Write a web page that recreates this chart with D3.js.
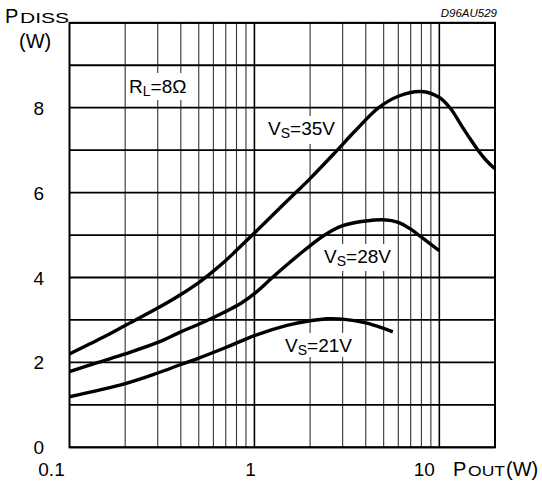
<!DOCTYPE html>
<html><head><meta charset="utf-8">
<script src="https://cdn.jsdelivr.net/npm/d3@7"></script>
<style>body{margin:0;background:#fff}svg{display:block;font-family:"Liberation Sans",Arial,sans-serif}</style>
</head><body><svg id="c" width="542" height="482"></svg>
<script>
// ---- data ----
const pout35 = [0.1,0.15,0.2,0.3,0.4,0.5,0.6,0.7,0.8,1,1.5,2,2.75,3.5,4.7,6,8,10,11.5,13,14.5,16.3,18,20];
const pdiss35 = [2.2,2.58,2.87,3.28,3.6,3.88,4.15,4.4,4.64,5.05,5.8,6.33,6.96,7.45,8.0,8.27,8.38,8.24,7.98,7.62,7.3,6.98,6.75,6.56];
const pout28 = [0.1,0.143,0.2,0.3,0.4,0.5,0.7,0.85,1,1.25,1.5,1.85,2.4,3,4,5,6,7,8,10];
const pdiss28 = [1.78,2.0,2.2,2.47,2.72,2.9,3.2,3.4,3.62,4.0,4.3,4.63,5.0,5.22,5.33,5.36,5.3,5.14,4.95,4.63];
const pout21 = [0.1,0.2,0.3,0.4,0.5,0.7,1,1.5,2,2.5,3,4,5,5.6];
const pdiss21 = [1.19,1.5,1.75,1.95,2.1,2.35,2.63,2.87,2.98,3.03,3.02,2.93,2.8,2.72];
const yTicks = [0,2,4,6,8];
const yGrid = [0,1,2,3,4,5,6,7,8,9,10];
const xTickVals = [0.1,1,10];
const xTickLabels = ["0.1","1","10"];
const xGridMinor = [0.2,0.3,0.4,0.5,0.6,0.7,0.8,0.9,2,3,4,5,6,7,8,9];
const xGridMajor = [1,10];
const curveLabels = [
  {main:"V", sub:"S", rest:"=35V", x:268, y:135},
  {main:"V", sub:"S", rest:"=28V", x:324, y:263},
  {main:"V", sub:"S", rest:"=21V", x:285, y:352},
  {main:"R", sub:"L", rest:"=8Ω", x:129, y:93}
];

const svg = d3.select("#c");
const x = d3.scaleLog().domain([0.1,20]).range([69.5,495]);
const y = d3.scaleLinear().domain([0,10]).range([447.3,22.8]);

// grid
const g = svg.append("g");
g.selectAll(".vm").data(xGridMinor).enter().append("line")
  .attr("x1",d=>x(d)).attr("x2",d=>x(d)).attr("y1",y(0)).attr("y2",y(10))
  .attr("stroke","#333").attr("stroke-width",1.1);
g.selectAll(".vM").data(xGridMajor).enter().append("line")
  .attr("x1",d=>x(d)).attr("x2",d=>x(d)).attr("y1",y(0)).attr("y2",y(10))
  .attr("stroke","#000").attr("stroke-width",1.6);
g.selectAll(".h").data(yGrid).enter().append("line")
  .attr("x1",x(0.1)).attr("x2",x(20)).attr("y1",d=>y(d)).attr("y2",d=>y(d))
  .attr("stroke","#000").attr("stroke-width",1.8);
g.append("rect").attr("x",x(0.1)).attr("y",y(10)).attr("width",x(20)-x(0.1)).attr("height",y(0)-y(10))
  .attr("fill","none").attr("stroke","#000").attr("stroke-width",2);

// label backgrounds
const boxes = [[265,116,74,28],[321,244,70,27],[282,333,70,24],[127,73,62,27]];
svg.selectAll(".bx").data(boxes).enter().append("rect")
  .attr("x",d=>d[0]).attr("y",d=>d[1]).attr("width",d=>d[2]).attr("height",d=>d[3]).attr("fill","#fff");

// curves
const line = d3.line().x(d=>x(d[0])).y(d=>y(d[1])).curve(d3.curveCatmullRom.alpha(0.5));
[[pout35,pdiss35],[pout28,pdiss28],[pout21,pdiss21]].forEach(([xs,ys])=>{
  svg.append("path").attr("d",line(xs.map((v,i)=>[v,ys[i]])))
    .attr("fill","none").attr("stroke","#000").attr("stroke-width",3.4).attr("stroke-linecap","butt");
});

// curve labels
curveLabels.forEach(l=>{
  const t = svg.append("text").attr("x",l.x).attr("y",l.y).attr("font-size",19).attr("fill","#000");
  t.append("tspan").text(l.main);
  t.append("tspan").attr("font-size",14).attr("dy",3).text(l.sub);
  t.append("tspan").attr("dy",-3).text(l.rest);
});

// y tick labels
svg.selectAll(".yt").data(yTicks).enter().append("text")
  .attr("x",44).attr("y",d=>y(d)+7).attr("text-anchor","end").attr("font-size",19).text(d=>d);
// x tick labels
svg.selectAll(".xt").data(xTickVals).enter().append("text")
  .attr("x",(d,i)=>x(d)+[-18,-4,-15][i]).attr("y",476).attr("text-anchor","middle").attr("font-size",19)
  .text((d,i)=>xTickLabels[i]);

// axis titles
svg.append("text").attr("x",5).attr("y",23).attr("font-size",20).text("P");
svg.append("text").attr("x",20).attr("y",23).attr("font-size",15.5)
  .attr("textLength",49).attr("lengthAdjust","spacingAndGlyphs").text("DISS");
svg.append("text").attr("x",19).attr("y",48).attr("font-size",20).text("(W)");
svg.append("text").attr("x",453).attr("y",476).attr("font-size",20).text("P");
svg.append("text").attr("x",468).attr("y",476).attr("font-size",15.5)
  .attr("textLength",37).attr("lengthAdjust","spacingAndGlyphs").text("OUT");
svg.append("text").attr("x",506).attr("y",476).attr("font-size",20).text("(W)");
svg.append("text").attr("x",497).attr("y",17).attr("text-anchor","end").attr("font-size",11.5)
  .attr("font-style","italic").text("D96AU529");
</script></body></html>
